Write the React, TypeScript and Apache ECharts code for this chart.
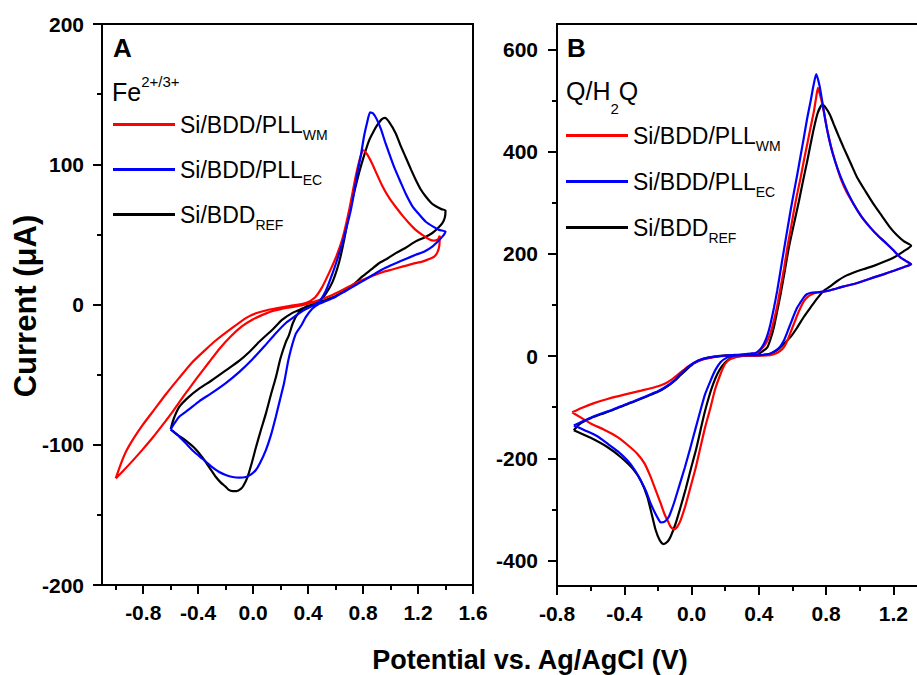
import React, { useEffect, useRef } from "react";
import * as echarts from "echarts";

// ---------- data (potential V, current µA) ----------
const seriesNames = ["Si/BDD/PLL_WM", "Si/BDD/PLL_EC", "Si/BDD_REF"];
const seriesColors = ["#ff0000", "#0000ff", "#000000"];

// Panel A: Fe2+/3+
const aWM: number[][] = [
  [-1.0, -124], [-0.96, -113], [-0.926, -105], [-0.87, -95.5], [-0.805, -86], [-0.72, -75], [-0.635, -64],
  [-0.54, -52.5], [-0.441, -41], [-0.35, -32.5], [-0.27, -25.5], [-0.15, -16.5], [-0.05, -9.5],
  [0.02, -6.3], [0.12, -3.6], [0.22, -1.8], [0.3, -0.5], [0.383, 1], [0.45, 5], [0.5, 12], [0.55, 22],
  [0.6, 33], [0.65, 47], [0.7, 68], [0.75, 93], [0.78, 105], [0.802, 110], [0.83, 107], [0.868, 100],
  [0.9, 93], [0.94, 84.5], [0.99, 76], [1.038, 69.5], [1.09, 63], [1.135, 58], [1.185, 53], [1.231, 49.6],
  [1.28, 46.5], [1.316, 45.5], [1.345, 46.5], [1.358, 49],
  [1.355, 42], [1.34, 37], [1.316, 34], [1.27, 32], [1.231, 30.6], [1.16, 29], [1.086, 27], [1.013, 25],
  [0.94, 23], [0.87, 20.5], [0.795, 17.5], [0.72, 14], [0.65, 10.4], [0.58, 7], [0.504, 4], [0.43, 1.5],
  [0.359, -0.4], [0.25, -2.3], [0.15, -4.5], [0.09, -6.5], [0.0, -10.5], [-0.08, -15.5], [-0.16, -22.5],
  [-0.24, -31], [-0.32, -41], [-0.41, -52.5], [-0.5, -64.5], [-0.587, -76.5], [-0.66, -86], [-0.732, -95],
  [-0.81, -104], [-0.878, -111.5], [-0.94, -118], [-1.0, -124],
];
const aEC: number[][] = [
  [-0.6, -89], [-0.575, -85], [-0.538, -80], [-0.47, -75], [-0.393, -69], [-0.3, -63], [-0.199, -56],
  [-0.1, -48], [-0.005, -39], [0.08, -30], [0.165, -20.5], [0.24, -13], [0.31, -8], [0.37, -4],
  [0.43, -1], [0.48, 2], [0.53, 10], [0.577, 22], [0.615, 33], [0.65, 44], [0.68, 55], [0.71, 67],
  [0.735, 80], [0.759, 94], [0.785, 107], [0.807, 120], [0.83, 130], [0.851, 137], [0.875, 136],
  [0.9, 132], [0.93, 125], [0.96, 116], [0.989, 108], [1.03, 97], [1.074, 87], [1.115, 78], [1.159, 70],
  [1.21, 64], [1.256, 59], [1.31, 55.5], [1.353, 53.2], [1.4, 52],
  [1.39, 50], [1.377, 48.4], [1.34, 44.5], [1.304, 41.3], [1.25, 38], [1.183, 35.4], [1.11, 32.5],
  [1.038, 29.4], [0.96, 26], [0.892, 22.3], [0.82, 18], [0.747, 13.9], [0.67, 9.5], [0.601, 5.6],
  [0.53, 2.5], [0.48, 0.5], [0.43, -3], [0.383, -9], [0.35, -15], [0.31, -21], [0.26, -38], [0.225, -56],
  [0.195, -68], [0.165, -80], [0.13, -93], [0.092, -104], [0.05, -113], [0.02, -118], [-0.02, -121.5],
  [-0.053, -123], [-0.1, -123.5], [-0.15, -123], [-0.2, -121.5], [-0.247, -119.4], [-0.31, -115],
  [-0.369, -110], [-0.43, -105], [-0.49, -99], [-0.55, -93], [-0.6, -89],
];
const aREF: number[][] = [
  [-0.6, -89], [-0.58, -82], [-0.538, -73], [-0.47, -66], [-0.393, -60], [-0.3, -54], [-0.199, -47],
  [-0.1, -40], [-0.03, -34], [0.05, -26], [0.14, -18], [0.21, -11], [0.286, -6], [0.335, -3.9],
  [0.4, -1], [0.48, 2], [0.53, 8], [0.577, 16], [0.625, 30], [0.66, 45], [0.698, 65], [0.735, 80],
  [0.771, 94], [0.81, 107], [0.844, 117], [0.88, 124], [0.904, 128], [0.935, 132], [0.96, 133],
  [0.99, 130], [1.038, 122], [1.07, 114], [1.11, 105], [1.15, 96], [1.183, 89], [1.22, 82], [1.256, 77],
  [1.3, 72], [1.33, 70], [1.37, 68], [1.4, 67],
  [1.395, 62], [1.377, 58], [1.34, 54], [1.304, 51], [1.25, 48], [1.183, 45], [1.11, 40.5], [1.038, 36.6],
  [0.98, 33], [0.916, 29.4], [0.86, 25], [0.795, 20], [0.74, 15], [0.674, 10.4], [0.6, 6], [0.529, 3.2],
  [0.45, 0.5], [0.383, -1.6], [0.33, -6], [0.29, -13], [0.26, -22], [0.237, -27], [0.2, -38],
  [0.165, -52], [0.13, -64], [0.092, -78], [0.055, -90], [0.02, -102], [-0.01, -113], [-0.041, -123],
  [-0.07, -129], [-0.09, -131.5], [-0.12, -133], [-0.15, -133], [-0.18, -132], [-0.199, -130],
  [-0.235, -127], [-0.271, -123], [-0.32, -116], [-0.369, -109], [-0.43, -102], [-0.49, -97],
  [-0.55, -93], [-0.6, -89],
];

// Panel B: Q/H2Q
const bWM: number[][] = [
  [-0.71, -110], [-0.65, -101], [-0.58, -92], [-0.5, -84], [-0.4, -75.5], [-0.3, -67.5], [-0.22, -61],
  [-0.16, -54], [-0.11, -44], [-0.065, -32], [-0.02, -20], [0.03, -11], [0.073, -6], [0.13, -2],
  [0.2, 0.5], [0.28, 2], [0.35, 4], [0.39, 6], [0.44, 24], [0.469, 45],
  [0.489, 69], [0.51, 100], [0.529, 134], [0.55, 172], [0.569, 212], [0.59, 250], [0.608, 284],
  [0.628, 318], [0.648, 349], [0.667, 382], [0.687, 414], [0.707, 447], [0.727, 479], [0.74, 505],
  [0.751, 525], [0.765, 510], [0.786, 479], [0.805, 445], [0.826, 414], [0.855, 380], [0.885, 349],
  [0.92, 322], [0.964, 297], [1.01, 273], [1.064, 251], [1.11, 235], [1.163, 219], [1.2, 207],
  [1.242, 193], [1.275, 186], [1.305, 180],
  [1.26, 174], [1.202, 167], [1.14, 160], [1.083, 154], [1.02, 147], [0.964, 141], [0.9, 136],
  [0.846, 131], [0.8, 127], [0.747, 124.5], [0.715, 121], [0.687, 115], [0.665, 106], [0.648, 95],
  [0.628, 80], [0.608, 63], [0.588, 46], [0.569, 30], [0.55, 18], [0.529, 10.7], [0.5, 5], [0.469, 2],
  [0.4, 1], [0.331, 1], [0.28, -1], [0.232, -5.5], [0.2, -15], [0.172, -35], [0.14, -65], [0.113, -100],
  [0.08, -140], [0.053, -178], [0.025, -218], [-0.006, -256], [-0.035, -291], [-0.065, -321],
  [-0.085, -334], [-0.105, -339], [-0.125, -334], [-0.135, -327], [-0.16, -310], [-0.184, -288],
  [-0.214, -262], [-0.244, -236], [-0.28, -210], [-0.323, -191], [-0.38, -174], [-0.442, -158],
  [-0.52, -144], [-0.6, -132], [-0.66, -120], [-0.71, -110],
];
const bEC: number[][] = [
  [-0.7, -136], [-0.65, -128], [-0.6, -120.5], [-0.54, -113], [-0.48, -106], [-0.42, -98], [-0.34, -88],
  [-0.26, -77], [-0.2, -69], [-0.144, -58], [-0.1, -47], [-0.065, -35], [-0.026, -23], [0.014, -13],
  [0.073, -5], [0.133, -1.5], [0.212, 1.5], [0.3, 3], [0.35, 5], [0.38, 6], [0.41, 14],
  [0.43, 24], [0.45, 40], [0.469, 63], [0.49, 95], [0.509, 128], [0.53, 170], [0.548, 206], [0.568, 245],
  [0.588, 284], [0.608, 320], [0.628, 355], [0.648, 392], [0.667, 427], [0.687, 465], [0.707, 498],
  [0.725, 530], [0.741, 552], [0.76, 530], [0.777, 498], [0.796, 460], [0.816, 427], [0.84, 395],
  [0.87, 365], [0.9, 340], [0.964, 297], [1.01, 273], [1.064, 251], [1.11, 235], [1.163, 219],
  [1.2, 207], [1.242, 193], [1.275, 186], [1.305, 180],
  [1.26, 174], [1.202, 167], [1.14, 160], [1.083, 154], [1.02, 147], [0.964, 141], [0.9, 136],
  [0.846, 131], [0.8, 127], [0.75, 125], [0.71, 124], [0.685, 121], [0.667, 115], [0.645, 104],
  [0.628, 95], [0.608, 80], [0.588, 63], [0.568, 46], [0.548, 30], [0.525, 18], [0.499, 10.7], [0.46, 4],
  [0.4, 2], [0.3, 1.5], [0.251, 1], [0.21, -3], [0.172, -12], [0.14, -28], [0.113, -48], [0.08, -75],
  [0.053, -106], [0.025, -140], [-0.006, -178], [-0.04, -218], [-0.075, -256], [-0.105, -288],
  [-0.135, -314.5], [-0.16, -324], [-0.184, -325.5], [-0.194, -321], [-0.22, -305], [-0.244, -288],
  [-0.27, -265], [-0.303, -243], [-0.34, -222], [-0.382, -204], [-0.44, -186], [-0.501, -171],
  [-0.56, -157], [-0.63, -146], [-0.7, -136],
];
const bREF: number[][] = [
  [-0.7, -145], [-0.67, -134], [-0.63, -126], [-0.6, -121.5], [-0.54, -114], [-0.48, -107], [-0.42, -99],
  [-0.34, -89], [-0.26, -78], [-0.2, -70], [-0.144, -59], [-0.1, -48], [-0.065, -37], [-0.026, -25],
  [0.014, -14], [0.073, -5], [0.133, -1], [0.212, 1.5], [0.3, 2.5], [0.39, 4], [0.42, 9], [0.45, 17],
  [0.469, 33], [0.489, 56], [0.509, 88], [0.529, 121], [0.553, 165], [0.578, 212], [0.608, 258],
  [0.638, 303], [0.662, 342], [0.687, 381], [0.707, 414], [0.727, 446], [0.75, 476], [0.777, 492],
  [0.8, 485], [0.823, 472], [0.846, 453], [0.875, 430], [0.905, 407], [0.945, 378], [0.985, 349],
  [1.035, 322], [1.083, 297], [1.13, 275], [1.182, 251], [1.22, 237], [1.261, 225], [1.305, 216],
  [1.26, 205], [1.202, 193], [1.14, 184], [1.083, 176.6], [1.02, 170], [0.964, 163.5], [0.91, 156],
  [0.866, 147], [0.826, 137], [0.786, 128], [0.747, 113], [0.707, 95], [0.668, 77], [0.628, 56],
  [0.59, 38], [0.548, 23.8], [0.51, 12], [0.469, 4.3], [0.42, 2], [0.37, 1], [0.291, 0.5], [0.25, -2],
  [0.212, -8.8], [0.18, -20], [0.153, -35], [0.128, -55], [0.103, -80], [0.078, -110], [0.053, -145],
  [0.025, -185], [-0.006, -223], [-0.035, -260], [-0.065, -295], [-0.095, -328], [-0.125, -353.6],
  [-0.145, -364], [-0.168, -368], [-0.19, -360], [-0.214, -340], [-0.24, -305], [-0.263, -275.5],
  [-0.3, -245], [-0.343, -223], [-0.42, -198], [-0.501, -178], [-0.6, -160], [-0.7, -145],
];

// ---------- ticks ----------
const xMajorA = [-0.8, -0.4, 0, 0.4, 0.8, 1.2, 1.6];
const xMinorA = [-1.0, -0.6, -0.2, 0.2, 0.6, 1.0, 1.4];
const yMajorA = [-200, -100, 0, 100, 200];
const yMinorA = [-150, -50, 50, 150];
const xMajorB = [-0.8, -0.4, 0, 0.4, 0.8, 1.2];
const xMinorB = [-0.6, -0.2, 0.2, 0.6, 1.0];
const yMajorB = [-400, -200, 0, 200, 400, 600];
const yMinorB = [-300, -100, 100, 300, 500];

const FONT = "'Liberation Sans', Arial, Helvetica, sans-serif";

function majorAxis(gridIndex: number, position: string, min: number, max: number, ticks: number[], fmt: (v: number) => string, margin: number) {
  return {
    type: "value", gridIndex, position, min, max,
    axisLine: { show: true, onZero: false, lineStyle: { color: "#000", width: 2 } },
    axisTick: { show: true, inside: false, length: 9, customValues: ticks, lineStyle: { color: "#000", width: 2 } },
    axisLabel: { show: true, customValues: ticks, formatter: fmt, margin, color: "#000", fontSize: 21, fontWeight: "bold", fontFamily: FONT },
    splitLine: { show: false },
  };
}
function minorAxis(gridIndex: number, position: string, min: number, max: number, ticks: number[]) {
  return {
    type: "value", gridIndex, position, min, max,
    axisLine: { show: false, onZero: false },
    axisTick: { show: true, inside: false, length: 5, customValues: ticks, lineStyle: { color: "#000", width: 2 } },
    axisLabel: { show: false },
    splitLine: { show: false },
  };
}

const fx = (v: number) => v.toFixed(1);
const fy = (v: number) => String(Math.round(v));

const legendRich = {
  m: { fontSize: 23, fontFamily: FONT, color: "#000", lineHeight: 35 },
  s: { fontSize: 14, fontFamily: FONT, color: "#000", lineHeight: 14, verticalAlign: "bottom" },
};
const legendFmt = (name: string) => {
  const [a, b] = name.split("_");
  return `{m|${a}}{s|${b}}`;
};

function makeSeries(name: string, color: string, data: number[][], axisIdx: number) {
  return {
    type: "line", name, data, xAxisIndex: axisIdx, yAxisIndex: axisIdx,
    showSymbol: false, symbol: "none", smooth: 0.2,
    lineStyle: { color, width: 2.2 }, itemStyle: { color },
  };
}

export default function App() {
  const ref = useRef<HTMLDivElement>(null);
  useEffect(() => {
    document.body.style.margin = "0";
    const chart = echarts.init(ref.current!, null, { renderer: "svg" });
    const option: any = {
      animation: false,
      backgroundColor: "#fff",
      grid: [
        { left: 102, top: 24, width: 371, height: 561, show: true, borderColor: "#000", borderWidth: 2, backgroundColor: "transparent" },
        { left: 557, top: 24, width: 360, height: 562, show: false },
      ],
      xAxis: [
        majorAxis(0, "bottom", -1.1, 1.6, xMajorA, fx, 17),
        minorAxis(0, "bottom", -1.1, 1.6, xMinorA),
        majorAxis(1, "bottom", -0.8, 1.34, xMajorB, fx, 17),
        minorAxis(1, "bottom", -0.8, 1.34, xMinorB),
        {
          type: "value", gridIndex: 1, position: "top", min: -0.8, max: 1.34,
          axisLine: { show: true, onZero: false, lineStyle: { color: "#000", width: 2 } },
          axisTick: { show: false }, axisLabel: { show: false }, splitLine: { show: false },
        },
      ],
      yAxis: [
        majorAxis(0, "left", -200, 200, yMajorA, fy, 18),
        minorAxis(0, "left", -200, 200, yMinorA),
        majorAxis(1, "left", -450, 650, yMajorB, fy, 19),
        minorAxis(1, "left", -450, 650, yMinorB),
      ],
      legend: [
        {
          data: seriesNames, orient: "vertical", left: 113, top: 113, padding: 0, itemWidth: 62, itemHeight: 3,
          itemGap: 16, icon: "rect", selectedMode: false, formatter: legendFmt, itemTextGap: 10,
          textStyle: { rich: legendRich },
        },
        {
          data: seriesNames, orient: "vertical", left: 566, top: 124, padding: 0, itemWidth: 62, itemHeight: 3,
          itemGap: 17, icon: "rect", selectedMode: false, formatter: legendFmt, itemTextGap: 9,
          textStyle: { rich: legendRich },
        },
      ],
      graphic: [
        { type: "text", left: 113, top: 35, style: { text: "A", font: `bold 26px ${FONT}`, fill: "#000" } },
        { type: "text", left: 567, top: 35, style: { text: "B", font: `bold 26px ${FONT}`, fill: "#000" } },
        {
          type: "text", left: 112, top: 74,
          style: {
            text: "{m|Fe}{p|2+/3+}",
            rich: {
              m: { fontSize: 25, fontFamily: FONT, fill: "#000", lineHeight: 30, verticalAlign: "bottom" },
              p: { fontSize: 15, fontFamily: FONT, fill: "#000", lineHeight: 15, verticalAlign: "top" },
            },
          },
        },
        {
          type: "text", left: 566, top: 78,
          style: {
            text: "{m|Q/H}{s|2}{m|Q}",
            rich: {
              m: { fontSize: 25, fontFamily: FONT, fill: "#000", lineHeight: 51 },
              s: { fontSize: 15, fontFamily: FONT, fill: "#000", lineHeight: 15, verticalAlign: "bottom" },
            },
          },
        },
        {
          type: "text", x: 25, y: 306, rotation: Math.PI / 2,
          style: { text: "Current (\u03bcA)", font: `bold 31px ${FONT}`, fill: "#000", align: "center", verticalAlign: "middle" },
        },
        {
          type: "text", x: 530, y: 660,
          style: { text: "Potential vs. Ag/AgCl (V)", font: `bold 27px ${FONT}`, fill: "#000", align: "center", verticalAlign: "middle" },
        },
      ],
      series: [
        makeSeries(seriesNames[2], seriesColors[2], aREF, 0),
        makeSeries(seriesNames[0], seriesColors[0], aWM, 0),
        makeSeries(seriesNames[1], seriesColors[1], aEC, 0),
        makeSeries(seriesNames[2], seriesColors[2], bREF, 2),
        makeSeries(seriesNames[0], seriesColors[0], bWM, 2),
        makeSeries(seriesNames[1], seriesColors[1], bEC, 2),
      ],
    };
    chart.setOption(option);
    return () => chart.dispose();
  }, []);
  return <div ref={ref} style={{ width: 917, height: 675 }} />;
}
